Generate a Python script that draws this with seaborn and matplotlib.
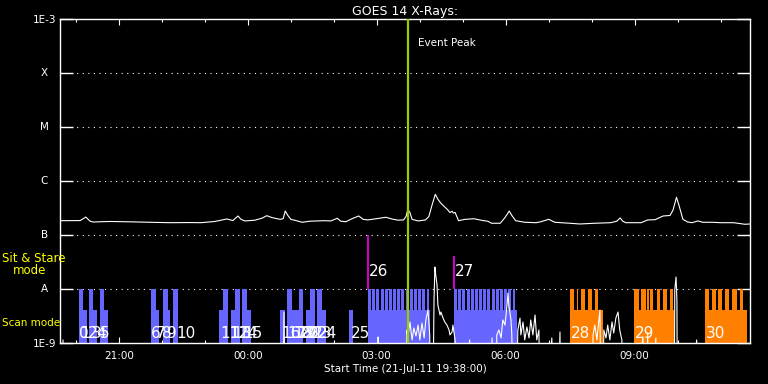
import numpy as np
import pandas as pd
import matplotlib
matplotlib.use("Agg")
import matplotlib.pyplot as plt
import seaborn as sns

# GOES 14 long channel, hours after 21-Jul-11 19:38
goes_t = [0.00, 0.47, 0.60, 0.70, 0.77, 1.16, 1.53, 2.09, 2.56, 3.02, 3.28, 3.60, 3.88, 4.02,
          4.14, 4.21, 4.30, 4.53, 4.70, 4.81, 4.93, 5.12, 5.19, 5.24, 5.30, 5.37, 5.49, 5.63,
          5.81, 6.14, 6.30, 6.45, 6.53, 6.65, 6.79, 6.95, 7.05, 7.16, 7.35, 7.58, 7.72, 7.86,
          7.99, 8.05, 8.09, 8.14, 8.19, 8.33, 8.50, 8.58, 8.65, 8.73, 8.79, 8.86, 8.95, 9.02,
          9.07, 9.12, 9.15, 9.19, 9.27, 9.42, 9.63, 9.84, 9.95, 10.04, 10.24, 10.35, 10.45,
          10.51, 10.60, 10.81, 11.07, 11.16, 11.37, 11.51, 11.86, 12.09, 12.44, 12.81, 12.95,
          13.03, 13.09, 13.16, 13.52, 13.60, 13.67, 13.84, 14.03, 14.19, 14.26, 14.34, 14.40,
          14.49, 14.60, 14.70, 14.84, 14.95, 15.16, 15.37, 15.67, 15.93, 16.05]
goes_flux = [1.84e-7, 1.85e-7, 2.15e-7, 1.80e-7, 1.74e-7, 1.78e-7, 1.76e-7, 1.72e-7, 1.69e-7,
             1.70e-7, 1.69e-7, 1.78e-7, 1.98e-7, 1.85e-7, 2.25e-7, 1.95e-7, 1.82e-7, 1.88e-7,
             2.05e-7, 2.28e-7, 2.10e-7, 1.95e-7, 2.00e-7, 2.78e-7, 2.30e-7, 1.95e-7, 1.85e-7,
             1.72e-7, 1.80e-7, 1.84e-7, 1.82e-7, 2.04e-7, 1.80e-7, 1.76e-7, 2.00e-7, 2.25e-7,
             1.95e-7, 1.90e-7, 2.00e-7, 2.13e-7, 1.98e-7, 1.88e-7, 1.90e-7, 2.20e-7, 2.99e-7,
             2.60e-7, 1.95e-7, 1.82e-7, 1.90e-7, 2.20e-7, 3.50e-7, 5.67e-7, 4.60e-7, 3.87e-7,
             3.30e-7, 2.92e-7, 2.60e-7, 2.75e-7, 2.55e-7, 2.62e-7, 1.84e-7, 1.95e-7, 2.00e-7,
             1.85e-7, 1.80e-7, 1.65e-7, 1.65e-7, 2.10e-7, 2.78e-7, 2.30e-7, 1.84e-7, 1.72e-7,
             1.69e-7, 1.74e-7, 1.95e-7, 1.72e-7, 1.65e-7, 1.60e-7, 1.65e-7, 1.69e-7, 1.80e-7,
             2.07e-7, 1.80e-7, 1.69e-7, 1.69e-7, 1.80e-7, 1.90e-7, 1.92e-7, 2.25e-7, 2.30e-7,
             2.90e-7, 4.99e-7, 3.50e-7, 1.95e-7, 1.74e-7, 1.69e-7, 1.82e-7, 1.72e-7, 1.72e-7,
             1.69e-7, 1.69e-7, 1.58e-7, 1.60e-7]

# spiky lower trace (1e-12 = off scale, below 1E-9)
spike_t = [0.07, 0.12, 5.16, 5.21, 5.26, 7.35, 7.40, 7.44, 8.02, 8.07,
           8.09, 8.14, 8.19, 8.23, 8.28, 8.33, 8.37, 8.42, 8.47, 8.51,
           8.56, 8.60, 8.65, 8.70, 8.72, 8.74, 8.77, 8.79, 8.84, 8.86,
           8.91, 8.95, 9.00, 9.05, 9.07, 9.12, 9.14, 9.19, 9.26, 9.53,
           9.60, 10.00, 10.05, 10.12, 10.16, 10.21, 10.26, 10.30, 10.35, 10.40,
           10.42, 10.44, 10.49, 10.51, 10.56, 10.65, 10.70, 10.72, 10.77, 10.81,
           10.86, 10.91, 10.95, 11.00, 11.05, 11.09, 11.14, 11.19, 11.44, 11.53,
           11.63, 11.67, 12.33, 12.40, 12.44, 12.49, 12.53, 12.56, 12.60, 12.65,
           12.70, 12.74, 12.79, 12.84, 12.88, 12.93, 12.98, 13.02, 13.07, 13.12,
           13.56, 13.63, 13.67, 13.72, 13.86, 13.91, 14.28, 14.30, 14.33, 14.35,
           14.37, 14.81, 14.84, 16.05]
spike_flux = [1.14e-9, 1e-12, 1e-12, 3.75e-9, 1e-12, 1e-12, 1.29e-9, 1e-12, 1e-12, 1.74e-9,
              1.24e-9, 2.45e-9, 1.14e-9, 1.90e-9, 1.35e-9, 2.15e-9, 1.14e-9, 2.35e-9, 1.24e-9, 2.67e-9,
              4.08e-9, 1.41e-9, 1e-12, 6.26e-9, 2.55e-8, 1.82e-8, 1.19e-8, 5.05e-9, 3.30e-9, 3.75e-9,
              2.90e-9, 2.45e-9, 2.15e-9, 1.74e-9, 1.41e-9, 1.60e-9, 2.15e-9, 1.14e-9, 1e-12, 1.14e-9,
              1e-12, 1e-12, 1.24e-9, 1e-12, 1.41e-9, 1.74e-9, 1.24e-9, 2.67e-9, 2.15e-9, 5.05e-9,
              8.43e-9, 5.05e-9, 2.67e-9, 1.41e-9, 1e-12, 1.74e-9, 2.90e-9, 1.41e-9, 2.45e-9, 1.14e-9,
              1.98e-9, 1.24e-9, 2.67e-9, 1.41e-9, 3.30e-9, 1.14e-9, 1.74e-9, 1e-12, 1.24e-9, 1e-12,
              1.60e-9, 1e-12, 1e-12, 1.41e-9, 2.15e-9, 1.14e-9, 2.45e-9, 4.08e-9, 1e-12, 1.74e-9,
              1.24e-9, 2.15e-9, 1.14e-9, 2.45e-9, 1.53e-9, 2.90e-9, 3.75e-9, 1.74e-9, 1.14e-9, 1e-12,
              1.29e-9, 1e-12, 1.53e-9, 1e-12, 1.24e-9, 1e-12, 1e-12, 9.58e-9, 1.67e-8, 6.26e-9,
              1e-12, 1.14e-9, 1e-12, 1e-12]

# observation blocks (scan mode height), hours after start
block_start = [0.44, 0.67, 0.93, 2.12, 2.40, 2.63, 3.70, 3.98, 4.23, 5.12, 5.28, 5.44, 5.72,
               5.98, 6.72, 7.16, 9.16, 11.86, 13.35, 15.00]
block_end = [0.63, 0.86, 1.12, 2.30, 2.56, 2.74, 3.91, 4.19, 4.44, 5.23, 5.44, 5.65, 5.93,
             6.19, 6.81, 8.60, 10.63, 12.63, 14.28, 15.98]
block_color = ["blue"] * 17 + ["orange"] * 3

# single rasters (reach the A level)
raster_start = [0.44, 0.67, 0.93, 2.12, 2.40, 2.63, 3.79, 4.07, 4.23, 5.28, 5.56, 5.81, 5.98,
                7.16, 7.26, 7.36, 7.46, 7.55, 7.65, 7.75, 7.85, 7.94, 8.04, 8.14, 8.24, 8.33,
                8.43, 8.53,
                9.16, 9.26, 9.36, 9.46, 9.55, 9.65, 9.75, 9.85, 9.94, 10.04, 10.14, 10.24,
                10.33, 10.43, 10.53,
                11.86, 12.02, 12.11, 12.29, 12.44,
                13.35, 13.51, 13.65, 13.72, 13.88, 14.02, 14.19,
                15.00, 15.16, 15.31, 15.47, 15.64, 15.81]
raster_end = [0.53, 0.77, 1.02, 2.23, 2.51, 2.74, 3.91, 4.19, 4.35, 5.40, 5.65, 5.93, 6.09,
              7.23, 7.33, 7.43, 7.53, 7.62, 7.72, 7.82, 7.92, 8.01, 8.11, 8.21, 8.31, 8.40,
              8.50, 8.58,
              9.23, 9.33, 9.43, 9.53, 9.62, 9.72, 9.82, 9.92, 10.01, 10.11, 10.21, 10.31,
              10.40, 10.50, 10.58,
              11.95, 12.05, 12.21, 12.37, 12.52,
              13.47, 13.63, 13.70, 13.79, 13.95, 14.12, 14.26,
              15.10, 15.26, 15.41, 15.57, 15.74, 15.88]
raster_color = ["blue"] * 43 + ["orange"] * 18

# observation numbers and where they are written
obs_num = list(range(31))
obs_t = [0.44, 0.47, 0.65, 0.74, 0.84, 0.93, 2.12, 2.23, 2.37, 2.49, 2.70, 3.74, 3.93, 4.00,
         4.14, 4.26, 5.14, 5.28, 5.42, 5.51, 5.58, 5.70, 5.79, 5.88, 6.00, 6.77, 7.19, 9.19,
         11.88, 13.37, 15.02]
sit_stare = [26, 27]
sit_top = [1e-7, 4.1e-8]
sit_t = [7.16, 9.16]

levels = [1e-9, 1e-8, 1e-7, 1e-6, 1e-5, 1e-4, 1e-3]
level_names = ["1E-9", "A", "B", "C", "M", "X", "1E-3"]
tick_labels = ["21:00", "00:00", "03:00", "06:00", "09:00"]
start_clock = 19 + 38 / 60
t_end = 16.05
peak_t = 8.10

palette = {"blue": "#6666ff", "orange": "#ff8000"}
scan_top = 4.1e-9
sit_level = 2.07e-8
label_level = 1.53e-9

sns.set_theme(style="dark", rc={
    "figure.facecolor": "black", "axes.facecolor": "black",
    "axes.edgecolor": "white", "text.color": "white",
    "xtick.color": "white", "ytick.color": "white",
    "axes.labelcolor": "white",
})
plt.rcParams["font.family"] = ["DejaVu Sans"]

fig = plt.figure(figsize=(7.68, 3.84), dpi=100)
ax = fig.add_axes([60 / 768, 41 / 384, 690 / 768, 324 / 384])
ax.set_yscale("log")

# dotted level lines
for lv in levels[1:-1]:
    ax.axhline(lv, color="white", lw=0.8, ls=(0, (1, 4)), zorder=1)

# observation blocks and rasters
bs = np.array(block_start)
be = np.array(block_end)
ax.bar(bs, scan_top - 1e-10, width=be - bs, bottom=1e-10, align="edge",
       color=[palette[c] for c in block_color], linewidth=0, zorder=2)
rs = np.array(raster_start)
re_ = np.array(raster_end)
ax.bar(rs, 1e-8 - 1e-10, width=re_ - rs, bottom=1e-10, align="edge",
       color=[palette[c] for c in raster_color], linewidth=0, zorder=2)

# sit & stare markers
ax.vlines(sit_t, 1e-8, sit_top, color="#cc00cc", lw=1.5, zorder=3)

for n, t in zip(obs_num, obs_t):
    y = sit_level if n in sit_stare else label_level
    ax.text(t, y, str(n), color="white", fontsize=11, ha="left", va="center", zorder=5)

goes = pd.DataFrame({"t": goes_t, "flux": goes_flux})
spk = pd.DataFrame({"t": spike_t, "flux": spike_flux})
sns.lineplot(data=goes, x="t", y="flux", color="white", lw=0.8, ax=ax, zorder=4)
sns.lineplot(data=spk, x="t", y="flux", color="white", lw=0.8, ax=ax, zorder=4)

ax.axvline(peak_t, color="#99cc00", lw=1.6, zorder=4)
ax.text(peak_t + 0.23, 3.6e-4, "Event Peak", fontsize=7.5, va="center", ha="left")

ax.set_xlim(0, t_end)
ax.set_ylim(levels[0], levels[-1])

# axis ticks
major = [((int(s[:2]) - start_clock) % 24) for s in tick_labels]
minor = [m for m in np.arange(0.3667, t_end, 1.0)]
ax.set_xticks(major)
ax.set_xticklabels(tick_labels, fontsize=7.5)
ax.set_xticks(minor, minor=True)
ax.tick_params(axis="x", which="both", direction="in", top=True, bottom=True, pad=6)
ax.tick_params(axis="x", which="major", length=4, width=0.8)
ax.tick_params(axis="x", which="minor", length=2.5, width=0.8)

ax.set_yticks(levels)
ax.set_yticklabels([l if l.startswith("1E") else "" for l in level_names], fontsize=7.5)
ax.yaxis.set_minor_locator(matplotlib.ticker.NullLocator())
ax.tick_params(axis="y", which="major", direction="in", left=True, right=True,
               length=9.5, width=1, pad=3)
for lv, name in zip(levels, level_names):
    if not name.startswith("1E"):
        ax.text(-0.023, lv, name, transform=ax.get_yaxis_transform(), fontsize=7.5,
                ha="center", va="center")

for s in ax.spines.values():
    s.set_color("white")
    s.set_linewidth(1)

ax.set_xlabel("Start Time (21-Jul-11 19:38:00)", fontsize=7.5, labelpad=2)
ax.set_ylabel("")
ax.set_title("GOES 14 X-Rays:", fontsize=9, pad=3)

fig.text(2 / 768, 1 - 259 / 384, "Sit & Stare", color="yellow", fontsize=8.5, va="center")
fig.text(13 / 768, 1 - 271 / 384, "mode", color="yellow", fontsize=8.5, va="center")
fig.text(2 / 768, 1 - 323 / 384, "Scan mode", color="yellow", fontsize=7.5, va="center")

fig.savefig("out.png", dpi=100, facecolor="black")
